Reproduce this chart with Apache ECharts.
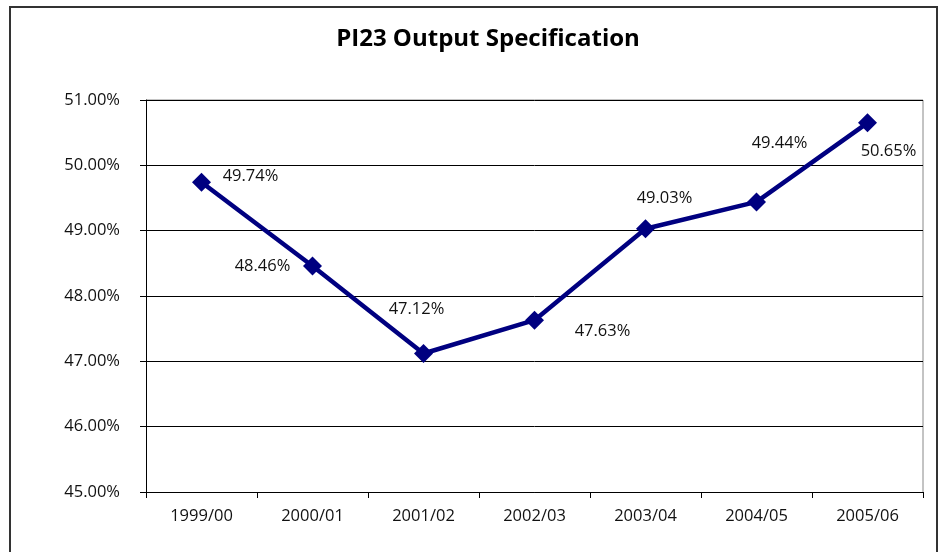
<!DOCTYPE html>
<html>
<head>
<meta charset="utf-8">
<script src="https://cdn.jsdelivr.net/npm/echarts@6/dist/echarts.min.js"></script>
<style>
  html, body { margin: 0; padding: 0; background: #fff; }
  #chart { width: 939px; height: 552px; }
</style>
</head>
<body>
<div id="chart"></div>
<script>
// data
const years = ['1999/00', '2000/01', '2001/02', '2002/03', '2003/04', '2004/05', '2005/06'];
const values = [49.74, 48.46, 47.12, 47.63, 49.03, 49.44, 50.65];
const yTicks = [45, 46, 47, 48, 49, 50, 51];

// label offsets from the marker centre, as placed in the original
const labelOffsets = [[49, -6], [-50, 0], [-7, -44], [68, 11], [19, -30], [23, -59], [21, 28]];

const fontFamily = '"Open Sans", "DejaVu Sans", sans-serif';

const seriesData = values.map((v, i) => ({
    value: v,
    label: { offset: labelOffsets[i] }
}));

const chart = echarts.init(document.getElementById('chart'));
chart.setOption({
    animation: false,
    backgroundColor: '#fff',
    title: {
        text: 'PI23 Output Specification',
        left: 483,
        textAlign: 'center',
        top: 22,
        textStyle: { fontFamily: fontFamily, fontSize: 24, fontWeight: 'bold', color: '#000' }
    },
    graphic: [{
        type: 'rect',
        shape: { x: 10, y: 7, width: 927, height: 570 },
        style: { fill: 'none', stroke: '#333', lineWidth: 2 },
        silent: true
    }, {
        // top and right edges of the plot area
        type: 'polyline',
        shape: { points: [[146, 100], [923, 100], [923, 492]] },
        style: { stroke: '#888', lineWidth: 1, fill: 'none' },
        silent: true
    }],
    grid: { left: 146, right: 16, top: 100, bottom: 60, containLabel: false },
    xAxis: {
        type: 'category',
        data: years,
        boundaryGap: true,
        axisLine: { lineStyle: { color: '#000', width: 1 } },
        axisTick: { show: true, length: 6, inside: false, lineStyle: { color: '#000' } },
        axisLabel: { color: '#111', fontFamily: fontFamily, fontSize: 16.5, margin: 16 },
        splitLine: { show: false }
    },
    yAxis: {
        type: 'value',
        min: yTicks[0],
        max: yTicks[yTicks.length - 1],
        interval: 1,
        axisLine: { show: true, lineStyle: { color: '#000', width: 1 } },
        axisTick: { show: true, length: 6, lineStyle: { color: '#000' } },
        axisLabel: {
            color: '#111', fontFamily: fontFamily, fontSize: 16.5, margin: 26,
            formatter: v => v.toFixed(2) + '%'
        },
        splitLine: { show: true, lineStyle: { color: '#000', width: 1 } }
    },
    series: [{
        type: 'line',
        data: seriesData,
        symbol: 'diamond',
        symbolSize: 19,
        lineStyle: { color: '#000080', width: 4.5 },
        itemStyle: { color: '#000080' },
        label: {
            show: true,
            position: 'inside',
            color: '#111',
            fontFamily: fontFamily,
            fontSize: 16.5,
            formatter: p => p.value.toFixed(2) + '%'
        }
    }]
});
</script>
</body>
</html>
